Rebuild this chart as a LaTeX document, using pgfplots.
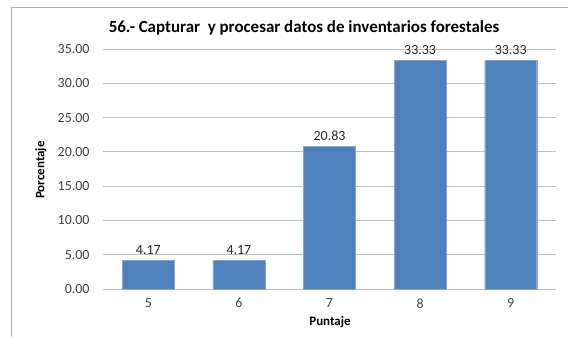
\documentclass[border=0pt]{standalone}
\usepackage{fontspec}
\setmainfont{Carlito}
\usepackage{pgfplots}
\pgfplotsset{compat=1.18}
\definecolor{barblue}{RGB}{79,129,189}
\definecolor{gridgray}{RGB}{191,191,191}
\definecolor{txtgray}{RGB}{64,64,64}
\begin{document}
\begin{tikzpicture}[x=1bp,y=1bp]
\useasboundingbox (0,0) rectangle (568,337);
\draw[gray!60, line width=0.8bp] (11,0) -- (11,330) -- (568,330);
\begin{axis}[
  at={(103bp,48bp)}, anchor=origin,
  scale only axis, width=453bp, height=240bp,
  xmin=4.5, xmax=9.5, ymin=0, ymax=35,
  xtick={5,6,7,8,9},
  ytick={0,5,10,15,20,25,30,35},
  major tick length=0pt,
  axis line style={draw=none},
  ymajorgrids, grid style={gridgray, line width=0.8bp},
  /pgf/number format/assume math mode=true,
  yticklabel={\pgfmathprintnumber[fixed,fixed zerofill,precision=2]{\tick}},
  ticklabel style={font=\fontsize{14}{16}\selectfont, text=txtgray},
  yticklabel style={xshift=-10bp},
  xticklabel style={yshift=-6bp},
  ybar, bar width=52bp,
  nodes near coords={\pgfmathprintnumber[fixed,fixed zerofill,precision=2,assume math mode=true]{\pgfplotspointmeta}},
  nodes near coords style={font=\fontsize{14}{16}\selectfont, text=black!85, yshift=2bp},
  clip=false,
]
\addplot[fill=barblue, draw=barblue!70!white] coordinates {(5,4.17) (6,4.17) (7,20.83) (8,33.33) (9,33.33)};
\end{axis}
\node[font=\fontsize{17}{20}\selectfont\bfseries] at (304,309) {56.- Capturar\ \ y procesar datos de inventarios forestales};
\node[font=\fontsize{13}{15}\selectfont\bfseries, rotate=90] at (41,167) {Porcentaje};
\node[font=\fontsize{13}{15}\selectfont\bfseries] at (330,15) {Puntaje};
\end{tikzpicture}
\end{document}
